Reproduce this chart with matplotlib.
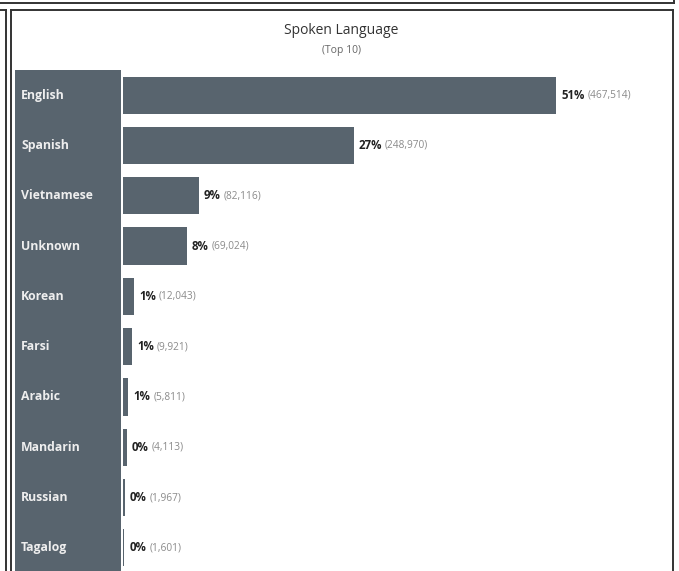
import matplotlib
matplotlib.use("Agg")
import matplotlib.pyplot as plt
from matplotlib.lines import Line2D
from matplotlib.patches import Rectangle

languages = ["English", "Spanish", "Vietnamese", "Unknown", "Korean",
             "Farsi", "Arabic", "Mandarin", "Russian", "Tagalog"]
counts = [467514, 248970, 82116, 69024, 12043, 9921, 5811, 4113, 1967, 1601]
pct_labels = ["51%", "27%", "9%", "8%", "1%", "1%", "1%", "0%", "0%", "0%"]

title = "Spoken Language"
subtitle = "(Top 10)"

W, H = 679, 571
BAR = "#58646e"
FONT = "Open Sans"

fig = plt.figure(figsize=(W / 100, H / 100), dpi=100)
fig.patch.set_facecolor("white")


def fx(x):
    return x / W


def fy(y):
    return 1 - y / H


def hline(y, x0, x1, lw=1.4, c="#333333"):
    fig.add_artist(Line2D([fx(x0), fx(x1)], [fy(y), fy(y)], lw=lw, color=c,
                          transform=fig.transFigure))


def vline(x, y0, y1, lw=1.4, c="#333333"):
    fig.add_artist(Line2D([fx(x), fx(x)], [fy(y0), fy(y1)], lw=lw, color=c,
                          transform=fig.transFigure))


# dashboard frame lines
hline(3, 0, 674)
vline(674, 0, 3)
hline(10, 0, 6)
vline(6, 10, H)
hline(10, 11, 673)
vline(11, 10, H)
vline(673, 10, H)

# title block
fig.text(fx(341), fy(30), title, ha="center", va="center",
         fontsize=10, family=FONT, color="#333333")
fig.text(fx(341), fy(51), subtitle, ha="center", va="center",
         fontsize=7.5, family=FONT, color="#666666")

# row header column (behind the axes so the labels stay on top)
fig.add_artist(Rectangle((fx(15), fy(H + 2)), fx(121) - fx(15), fy(70) - fy(H + 2),
                         transform=fig.transFigure, facecolor=BAR, edgecolor="none",
                         zorder=-1))

# bar area
left_px, right_px, top_px, bottom_px = 123, 673, 70, 573
ax = fig.add_axes([fx(left_px), fy(bottom_px), fx(right_px) - fx(left_px),
                   fy(top_px) - fy(bottom_px)])
ax.set_facecolor("none")
px_per_unit = 433 / counts[0]
ax.set_xlim(0, (right_px - left_px) / px_per_unit)
ax.set_ylim(len(languages) - 0.5, -0.5)
ax.axis("off")

ypos = list(range(len(languages)))
ax.barh(ypos, counts, height=0.74, color=BAR, edgecolor="none")

for i, (lang, n, p) in enumerate(zip(languages, counts, pct_labels)):
    # category label inside the header column
    ax.annotate(lang, xy=(0, i), xycoords=("axes fraction", "data"),
                xytext=(21 - left_px, 0), textcoords="offset pixels",
                ha="left", va="center", fontsize=8.8, fontweight="bold",
                family=FONT, color="#eeeeee", annotation_clip=False)
    t = ax.annotate(p, xy=(n, i), xytext=(5, 0), textcoords="offset pixels",
                    ha="left", va="center", fontsize=8.3, fontweight="bold",
                    family=FONT, color="#222222")
    ax.annotate(f"({n:,})", xy=(1, 0.5), xycoords=t, xytext=(3, 0),
                textcoords="offset pixels", ha="left", va="center",
                fontsize=7.3, family=FONT, color="#8a8a8a")

fig.savefig("out.png", dpi=100, facecolor="white")
